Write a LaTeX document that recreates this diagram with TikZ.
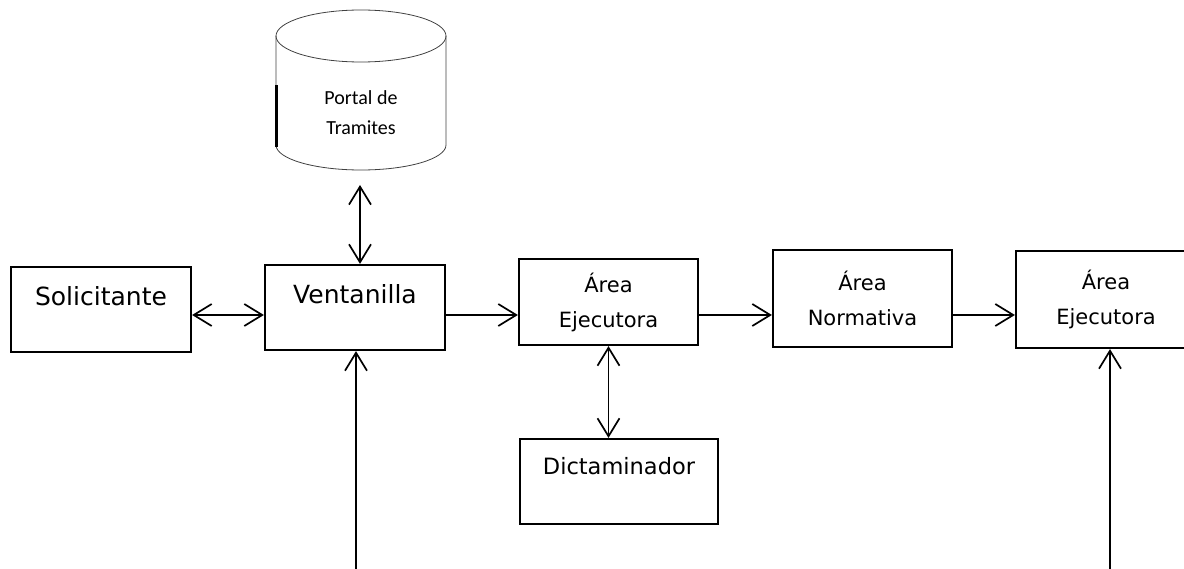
\documentclass[tikz,border=0pt]{standalone}
\usepackage{fontspec}
\newfontfamily\boxfont{DejaVu Sans}
\newfontfamily\dbfont{Carlito}
\usetikzlibrary{arrows.meta,positioning}

\begin{document}
\begin{tikzpicture}[x=1pt,y=-1pt,line width=1.7pt,
    >={Straight Barb[length=18pt,width=22pt]},
    bigbox/.style={draw,line width=2.2pt,minimum width=180pt,minimum height=85pt,inner sep=0pt,
      font=\boxfont\fontsize{25}{30}\selectfont,text height=18pt,text depth=26pt},
    areabox/.style={draw,line width=2.2pt,minimum width=180pt,minimum height=97pt,inner sep=0pt,
      align=center,font=\boxfont\fontsize{21}{35}\selectfont},
    dictbox/.style={draw,line width=2.2pt,minimum width=198pt,minimum height=85pt,inner sep=0pt,
      font=\boxfont\fontsize{22.5}{27}\selectfont,text height=16pt,text depth=31pt},
    dbtext/.style={align=center,font=\dbfont\fontsize{20}{30}\selectfont},
    dbline/.style={line width=0.8pt,black!75}]
  \useasboundingbox (0,0) rectangle (1184,569);
  \clip (0,0) rectangle (1184,569);
  \draw[dbline] (361,36) ellipse [x radius=85, y radius=26];
  \draw[dbline] (276,36) -- (276,145) arc[start angle=180, end angle=0, x radius=85, y radius=25] -- (446,36);
  \draw[line width=2.5pt] (276.5,85) -- (276.5,147);
  \node[dbtext] (Portal) at (361,113) {Portal de\\Tramites};
  \node[bigbox] (Sol) at (101,309.5) {Solicitante};
  \node[bigbox] (Vent) at (355,307.5) {Ventanilla};
  \node[areabox,minimum width=179pt,minimum height=86pt] (AE1) at (608.5,302) {Área\\Ejecutora};
  \node[areabox,minimum width=179pt] (AN) at (862.5,298.5) {Área\\Normativa};
  \node[areabox] (AE2) at (1106,299.5) {Área\\Ejecutora};
  \node[dictbox] (Dict) at (619,481.5) {Dictaminador};
  \coordinate (row) at (0,315);
  \coordinate (PortalBase) at (360,185);
  \coordinate (VentIn) at (356,569);
  \coordinate (AE2In) at (1110,569);
  \draw[<->] (Sol.east |- row) -- (Vent.west |- row);
  \draw[->] (Vent.east |- row) -- (AE1.west |- row);
  \draw[->] (AE1.east |- row) -- (AN.west |- row);
  \draw[->] (AN.east |- row) -- (AE2.west |- row);
  \draw[<->] (PortalBase) -- (Vent.north -| PortalBase);
  \draw[<->] (AE1.south) -- (AE1.south |- Dict.north);
  \draw[->] (VentIn) -- (Vent.south -| VentIn);
  \draw[->] (AE2In) -- (AE2.south -| AE2In);
\end{tikzpicture}
\end{document}
